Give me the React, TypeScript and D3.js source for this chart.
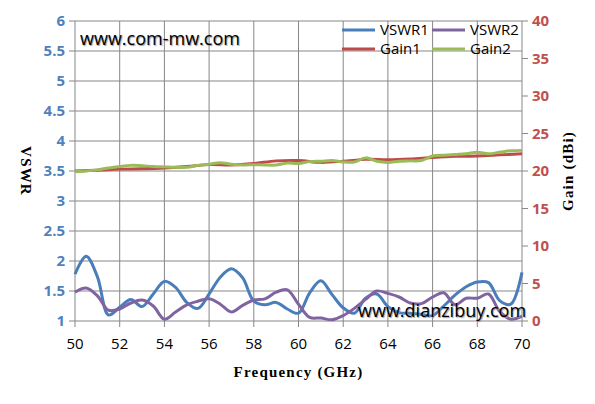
import React from "react";
import * as d3 from "d3";

const vswrFreq = [50, 50.5, 51, 51.5, 52, 52.5, 53, 53.5, 54, 54.5, 55, 55.5, 56, 56.5, 57, 57.5, 58, 58.5, 59, 59.5, 60,
  60.5, 61, 61.5, 62, 62.5, 63, 63.5, 64, 64.5, 65, 65.5, 66, 66.5, 67, 67.5, 68, 68.5, 69, 69.5, 70];
const vswr1 = [1.78, 2.08, 1.74, 1.1, 1.23, 1.36, 1.24, 1.45, 1.66, 1.56, 1.31, 1.21, 1.45, 1.73, 1.87, 1.72, 1.33, 1.27, 1.31, 1.2, 1.13,
  1.47, 1.67, 1.44, 1.22, 1.13, 1.38, 1.45, 1.24, 1.14, 1.13, 1.11, 1.09, 1.25, 1.43, 1.57, 1.65, 1.64, 1.34, 1.28, 1.81];
const vswr2 = [1.48, 1.55, 1.42, 1.18, 1.2, 1.3, 1.35, 1.25, 1.03, 1.15, 1.27, 1.33, 1.37, 1.28, 1.15, 1.26, 1.35, 1.37, 1.48, 1.52, 1.28,
  1.06, 1.05, 1.02, 1.09, 1.21, 1.36, 1.5, 1.46, 1.4, 1.3, 1.29, 1.4, 1.47, 1.27, 1.38, 1.38, 1.45, 1.16, 1.03, 1.08];

const gain1Freq = [50, 51, 52, 53, 54, 55, 56, 57, 58, 59, 60, 61, 62, 63, 64, 65, 66, 67, 68, 69, 70];
const gain1 = [20.0, 20.1, 20.25, 20.3, 20.4, 20.6, 20.85, 20.8, 21.0, 21.35, 21.4, 21.15, 21.3, 21.55, 21.5, 21.6, 21.8, 21.95, 22.0, 22.15, 22.3];

const gain2Freq = vswrFreq;
const gain2 = [19.9, 20.0, 20.15, 20.4, 20.6, 20.75, 20.7, 20.6, 20.55, 20.5, 20.5, 20.75, 20.9, 21.1, 20.9, 20.8, 20.85, 20.8, 20.8, 21.05, 21.0,
  21.25, 21.3, 21.4, 21.2, 21.2, 21.75, 21.3, 21.15, 21.3, 21.35, 21.4, 22.0, 22.1, 22.2, 22.3, 22.5, 22.3, 22.5, 22.7, 22.75];

const xTicks = [50, 52, 54, 56, 58, 60, 62, 64, 66, 68, 70];
const leftTicks = [1, 1.5, 2, 2.5, 3, 3.5, 4, 4.5, 5, 5.5, 6];
const rightTicks = [0, 5, 10, 15, 20, 25, 30, 35, 40];

const series = [
  { name: "VSWR1", color: "#4A7EBB", freq: vswrFreq, values: vswr1, axis: "left" },
  { name: "VSWR2", color: "#8064A2", freq: vswrFreq, values: vswr2, axis: "left" },
  { name: "Gain1", color: "#BE4B48", freq: gain1Freq, values: gain1, axis: "right" },
  { name: "Gain2", color: "#9BBB59", freq: gain2Freq, values: gain2, axis: "right" },
];

const grid = "#878787";
const sans = "'Open Sans', sans-serif";
const serif = "'Liberation Serif', serif";

export default function App() {
  const width = 595;
  const height = 404;
  const margin = { left: 75, right: 73, top: 21, bottom: 83 };
  const x = d3.scaleLinear().domain([50, 70]).range([margin.left, width - margin.right]);
  const yL = d3.scaleLinear().domain([1, 6]).range([height - margin.bottom, margin.top]);
  const yR = d3.scaleLinear().domain([0, 40]).range([height - margin.bottom, margin.top]);
  const x0 = x.range()[0], x1 = x.range()[1];
  const yBot = yL.range()[0], yTop = yL.range()[1];
  const midY = (yBot + yTop) / 2;

  const makeLine = (s) => {
    const y = s.axis === "left" ? yL : yR;
    return d3.line()
      .x((d) => x(d[0]))
      .y((d) => y(d[1]))
      .curve(d3.curveCatmullRom.alpha(0.5))(s.freq.map((f, i) => [f, s.values[i]]));
  };

  const titleStyle = { fontFamily: serif, fontWeight: "bold", fontSize: 15, letterSpacing: 1.2 };

  return (
    <svg width={width} height={height} style={{ display: "block", margin: -8 }}>
      <rect width={width} height={height} fill="#fff" />
      {/* grid */}
      {leftTicks.map((t) => (
        <line key={"h" + t} x1={x0} x2={x1} y1={yL(t)} y2={yL(t)} stroke={grid} />
      ))}
      {xTicks.map((t) => (
        <line key={"v" + t} x1={x(t)} x2={x(t)} y1={yTop} y2={yBot} stroke={grid} />
      ))}
      {/* ticks */}
      {xTicks.map((t) => (
        <g key={"xt" + t}>
          <line x1={x(t)} x2={x(t)} y1={yBot} y2={yBot + 6} stroke={grid} />
          <text x={x(t)} y={yBot + 28} textAnchor="middle" fontFamily={sans} fontSize={15} fill="#000">{t}</text>
        </g>
      ))}
      {leftTicks.map((t) => (
        <g key={"lt" + t}>
          <line x1={x0 - 6} x2={x0} y1={yL(t)} y2={yL(t)} stroke={grid} />
          <text x={x0 - 10} y={yL(t) + 5} textAnchor="end" fontFamily={sans} fontWeight="bold" fontSize={15} fill="#4F81BD">{t}</text>
        </g>
      ))}
      {rightTicks.map((t) => (
        <g key={"rt" + t}>
          <line x1={x1} x2={x1 + 6} y1={yR(t)} y2={yR(t)} stroke={grid} />
          <text x={x1 + 10} y={yR(t) + 5} textAnchor="start" fontFamily={sans} fontWeight="bold" fontSize={15} fill="#C0504D">{t}</text>
        </g>
      ))}
      {/* series */}
      {series.map((s) => (
        <path key={s.name} d={makeLine(s)} fill="none" stroke={s.color} strokeWidth={3} strokeLinejoin="round" />
      ))}
      {/* axis titles */}
      <text x={(x0 + x1) / 2} y={yBot + 56} textAnchor="middle" style={titleStyle}>Frequency (GHz)</text>
      <text transform={`translate(21,${midY}) rotate(90)`} textAnchor="middle" style={titleStyle}>VSWR</text>
      <text transform={`translate(573,${midY}) rotate(-90)`} textAnchor="middle" style={titleStyle}>Gain (dBi)</text>
      {/* legend */}
      {series.map((s, i) => {
        const lx = 342 + (i % 2) * 90;
        const ly = 30 + Math.floor(i / 2) * 19;
        return (
          <g key={"lg" + s.name}>
            <line x1={lx} x2={lx + 33} y1={ly} y2={ly} stroke={s.color} strokeWidth={3} />
            <text x={lx + 38} y={ly + 5} fontFamily={sans} fontSize={15} fill="#000">{s.name}</text>
          </g>
        );
      })}
      {/* watermarks */}
      <text x={80} y={45} fontFamily={sans} fontSize={18} fill="#000" style={{ textShadow: "1px 1px 1px #999" }}>www.com-mw.com</text>
      <text x={358} y={317} fontFamily={sans} fontSize={18} fill="#000" style={{ textShadow: "1px 1px 1px #999" }}>www.dianzibuy.com</text>
    </svg>
  );
}
